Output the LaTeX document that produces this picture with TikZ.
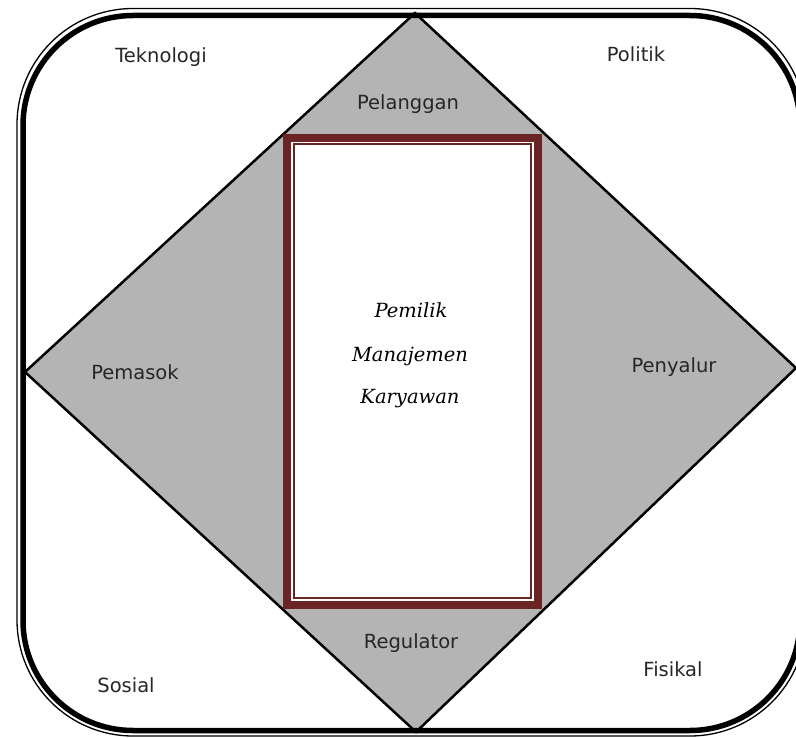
\documentclass[tikz,border=0pt]{standalone}
\usepackage{fontspec}
\usetikzlibrary{scopes}
\setmainfont{DejaVu Sans}
\newfontfamily\slabfont{DejaVu Serif}
\definecolor{framered}{HTML}{6B2424}
\definecolor{diamondgray}{HTML}{B4B4B4}

\begin{document}
\begin{tikzpicture}[x=1pt,y=-1pt,
    lbl/.style={anchor=base,font=\fontsize{19.5}{22}\selectfont,text=black!85},
    ctr/.style={anchor=base,font=\slabfont\itshape\fontsize{19.5}{22}\selectfont}]
        \useasboundingbox (0,0) rectangle (796,738);
        \clip (0,0) rectangle (796,738);
        % diamond
        \draw[fill=diamondgray,line width=2.5pt,line join=miter] (415,13) -- (796,368) -- (416,732) -- (25,372) -- cycle;
        % inner frame
        \fill[white] (283,134) rectangle (542,609);
        {[framered]
        \draw[line width=8pt] (287,138) rectangle (538,605);
        \draw[line width=1.5pt] (294,144) rectangle (531,598);
        }
        % outer border
        \draw[line width=5.5pt,rounded corners=110pt] (23,15.5) rectangle (800,730.5);
        \draw[line width=1.3pt,rounded corners=116pt] (17,8.5) rectangle (806,736);

        \node[lbl] (tek) at (161,63) {Teknologi};
        \node[lbl] (pol) at (636,62) {Politik};
        \node[lbl] (pel) at (408,110) {Pelanggan};
        \node[lbl] (pem) at (135,380) {Pemasok};
        \node[lbl] (pen) at (674,373) {Penyalur};
        \node[lbl] (reg) at (411,648) {Regulator};
        \node[lbl] (sos) at (126,692) {Sosial};
        \node[lbl] (fis) at (673,676) {Fisikal};

        \node[ctr] (pml) at (411,318) {Pemilik};
        \node[ctr] (mnj) at (410,362) {Manajemen};
        \node[ctr] (kry) at (410,403) {Karyawan};
    \end{tikzpicture}
\end{document}
